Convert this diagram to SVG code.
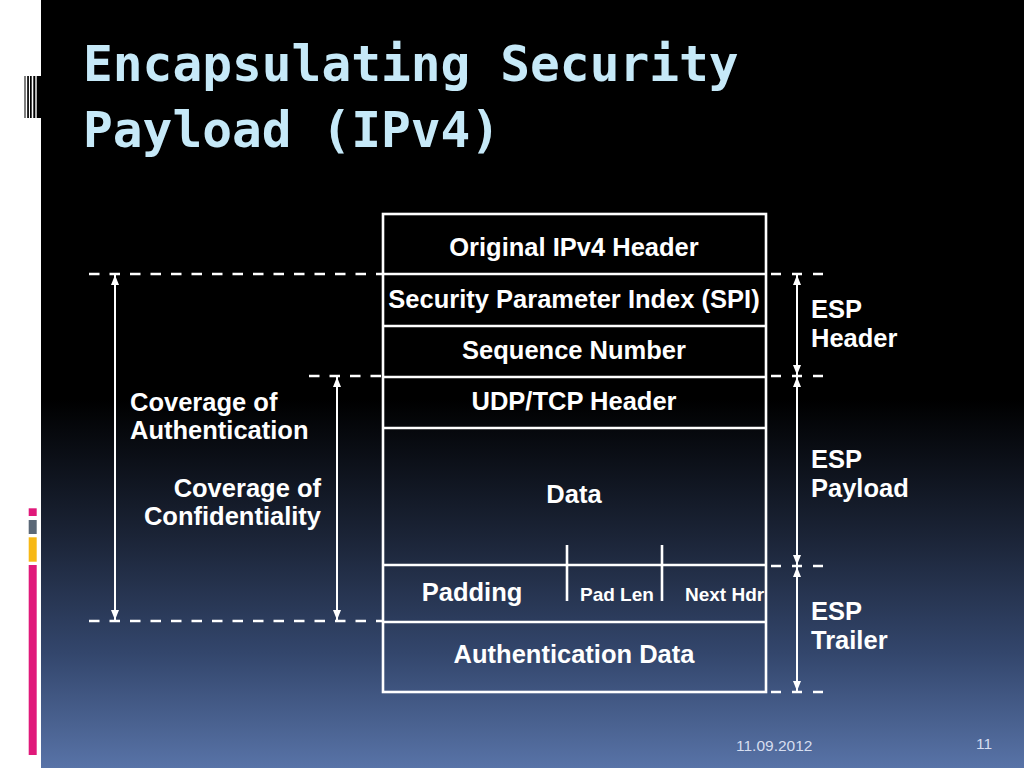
<svg xmlns="http://www.w3.org/2000/svg" width="1024" height="768" viewBox="0 0 1024 768">
<defs>
<linearGradient id="bg" x1="0" y1="0" x2="0" y2="768" gradientUnits="userSpaceOnUse">
<stop offset="0" stop-color="#000000"/>
<stop offset="0.52" stop-color="#000000"/>
<stop offset="0.7" stop-color="#1b2437"/>
<stop offset="0.85" stop-color="#33466c"/>
<stop offset="1" stop-color="#5873a7"/>
</linearGradient>
<marker id="ah" viewBox="0 0 10 8" markerWidth="10" markerHeight="8" refX="10" refY="4" markerUnits="userSpaceOnUse" orient="auto-start-reverse">
<path d="M0,0 L10,4 L0,8 z" fill="#ffffff"/>
</marker>
<style>
.t{font-family:"Liberation Sans",Arial,sans-serif;font-weight:bold;fill:#ffffff;font-size:25.5px}
.c{text-anchor:middle}
.s{font-size:19px}
.title{font-family:"DejaVu Sans Mono","Liberation Mono",monospace;font-weight:bold;fill:#c6e9f8;font-size:49.5px}
.foot{font-family:"Liberation Sans",Arial,sans-serif;fill:#d6def0;font-size:15.5px}
.box{fill:none;stroke:#ffffff;stroke-width:2.6}
.dash{fill:none;stroke:#ffffff;stroke-width:2.6;stroke-dasharray:10.5 10}
.dashr{fill:none;stroke:#ffffff;stroke-width:2.6;stroke-dasharray:10 11}
.arr{fill:none;stroke:#ffffff;stroke-width:2;marker-start:url(#ah);marker-end:url(#ah)}
</style>
</defs>

<g id="background">
<rect x="0" y="0" width="1024" height="768" fill="#ffffff"/>
<rect x="41" y="0" width="983" height="768" fill="url(#bg)"/>
<rect x="24.5" y="76" width="1" height="42" fill="#000"/>
<rect x="27.2" y="76" width="1.7" height="42" fill="#000"/>
<rect x="30" y="76" width="1.7" height="42" fill="#000"/>
<rect x="33.3" y="76" width="2" height="42" fill="#000"/>
<rect x="36.7" y="76" width="4.3" height="42" fill="#000"/>
<rect x="28.7" y="508.3" width="8" height="7.7" fill="#e0197a"/>
<rect x="28.7" y="520" width="8" height="14" fill="#5b6877"/>
<rect x="28.7" y="537.3" width="8" height="24.4" fill="#f7b815"/>
<rect x="28.7" y="565" width="8" height="190" fill="#e0197a"/>
</g>

<g id="title">
<text class="title" x="83" y="81">Encapsulating Security</text>
<text class="title" x="83" y="147">Payload (IPv4)</text>
</g>

<g id="packet">
<rect class="box" x="383" y="214" width="383" height="478"/>
<line class="box" x1="383" y1="274" x2="766" y2="274"/>
<line class="box" x1="383" y1="326" x2="766" y2="326"/>
<line class="box" x1="383" y1="377" x2="766" y2="377"/>
<line class="box" x1="383" y1="428" x2="766" y2="428"/>
<line class="box" x1="383" y1="565" x2="766" y2="565"/>
<line class="box" x1="383" y1="622" x2="766" y2="622"/>
<line class="box" x1="567" y1="545" x2="567" y2="601"/>
<line class="box" x1="662" y1="545" x2="662" y2="601"/>
</g>

<g id="n-ipv4"><text class="t c" x="574" y="256">Original IPv4 Header</text></g>
<g id="n-spi"><text class="t c" x="574" y="308">Security Parameter Index (SPI)</text></g>
<g id="n-seq"><text class="t c" x="574" y="359">Sequence Number</text></g>
<g id="n-udp"><text class="t c" x="574" y="410">UDP/TCP Header</text></g>
<g id="n-data"><text class="t c" x="574" y="503">Data</text></g>
<g id="n-padding"><text class="t c" x="472" y="601">Padding</text></g>
<g id="n-padlen"><text class="t s" x="580" y="601">Pad Len</text></g>
<g id="n-nexthdr"><text class="t s" x="685" y="601">Next Hdr</text></g>
<g id="n-auth"><text class="t c" x="574" y="663">Authentication Data</text></g>

<g id="labels">
<text class="t" x="811" y="318">ESP</text>
<text class="t" x="811" y="347">Header</text>
<text class="t" x="811" y="468">ESP</text>
<text class="t" x="811" y="497">Payload</text>
<text class="t" x="811" y="620">ESP</text>
<text class="t" x="811" y="649">Trailer</text>
<text class="t" x="130" y="411">Coverage of</text>
<text class="t" x="130" y="439">Authentication</text>
<text class="t" x="321" y="497" text-anchor="end">Coverage of</text>
<text class="t" x="321" y="525" text-anchor="end">Confidentiality</text>
</g>

<g id="connectors">
<line class="dash" x1="89" y1="274" x2="384" y2="274"/>
<line class="dash" x1="89" y1="621" x2="384" y2="621"/>
<line class="dash" x1="309" y1="376" x2="384" y2="376"/>
<line class="dashr" x1="771" y1="274" x2="825" y2="274"/>
<line class="dashr" x1="771" y1="376" x2="825" y2="376"/>
<line class="dashr" x1="771" y1="566" x2="825" y2="566"/>
<line class="dashr" x1="771" y1="692" x2="825" y2="692"/>
<line class="arr" x1="115" y1="275" x2="115" y2="620"/>
<line class="arr" x1="337" y1="377" x2="337" y2="620"/>
<line class="arr" x1="797" y1="275" x2="797" y2="375"/>
<line class="arr" x1="797" y1="377" x2="797" y2="565"/>
<line class="arr" x1="797" y1="567" x2="797" y2="691"/>
</g>

<g id="footer">
<text class="foot" x="736" y="751">11.09.2012</text>
<text class="foot" x="976" y="749">11</text>
</g>
</svg>
